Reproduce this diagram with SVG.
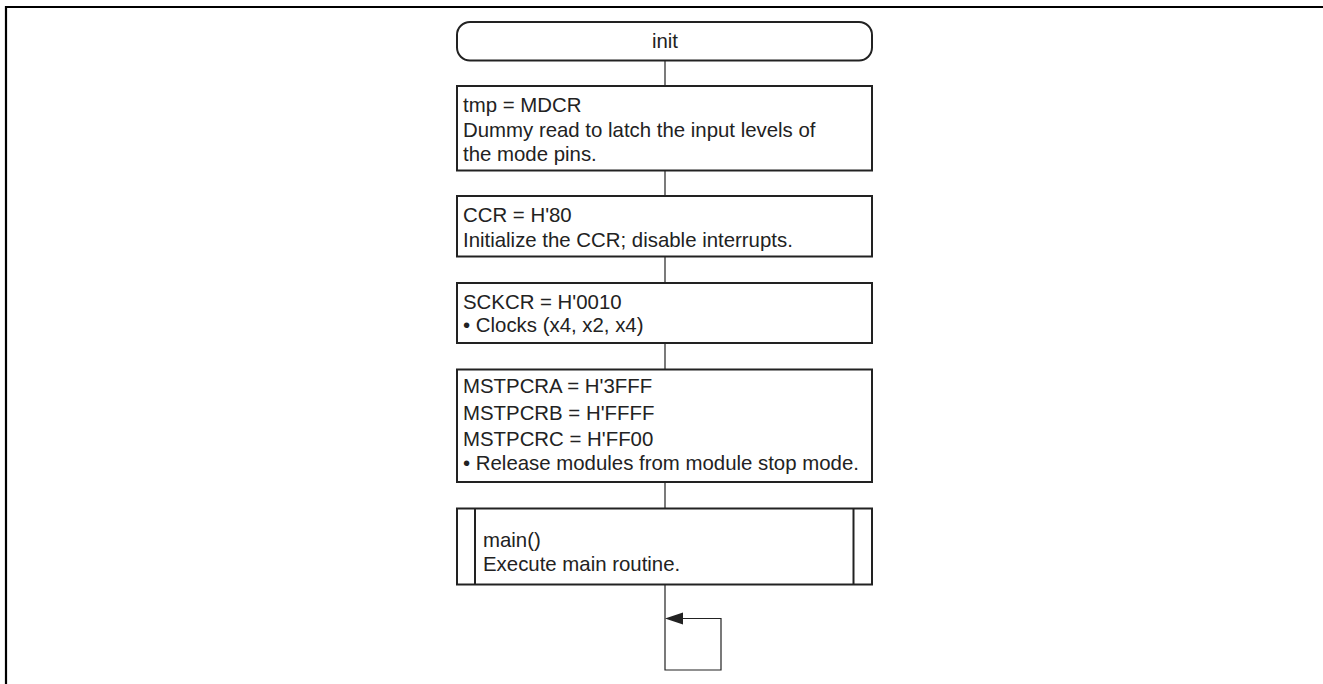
<svg xmlns="http://www.w3.org/2000/svg" width="1323" height="684" viewBox="0 0 1323 684">
<style>
.frame{fill:none;stroke:#000;stroke-width:2.2}
.box{fill:#fff;stroke:#222;stroke-width:2}
.ln{fill:none;stroke:#222;stroke-width:1.2}
text{font-family:"Liberation Sans",Arial,sans-serif;font-size:20.4px;fill:#222}
</style>
<rect width="1323" height="684" fill="#fff"/>
<path class="frame" d="M6,684 V7 H1323"/>
<g id="connectors">
<line class="ln" x1="665" y1="61" x2="665" y2="86"/>
<line class="ln" x1="665" y1="171" x2="665" y2="196"/>
<line class="ln" x1="665" y1="257" x2="665" y2="283"/>
<line class="ln" x1="665" y1="343" x2="665" y2="370"/>
<line class="ln" x1="665" y1="482" x2="665" y2="508"/>
<path class="ln" d="M665,584 V670 H721 V618.5 H683"/>
<path d="M665,618.5 L683,612.5 L683,624.5 Z" fill="#222"/>
</g>
<g id="n-init">
<rect class="box" x="457" y="22" width="415" height="38.5" rx="13" ry="13"/>
<text x="665" y="47.5" text-anchor="middle">init</text>
</g>
<g id="n-mdcr">
<rect class="box" x="457" y="86" width="415" height="84.5"/>
<text x="463" y="112">tmp = MDCR</text>
<text x="463" y="136.5">Dummy read to latch the input levels of</text>
<text x="463" y="161">the mode pins.</text>
</g>
<g id="n-ccr">
<rect class="box" x="457" y="196" width="415" height="60.5"/>
<text x="463" y="222">CCR = H'80</text>
<text x="463" y="246.5">Initialize the CCR; disable interrupts.</text>
</g>
<g id="n-sckcr">
<rect class="box" x="457" y="283" width="415" height="60"/>
<text x="463" y="308.5">SCKCR = H'0010</text>
<text x="463" y="332">• Clocks (x4, x2, x4)</text>
</g>
<g id="n-mstpcr">
<rect class="box" x="457" y="369.5" width="415" height="112.5"/>
<text x="463" y="393">MSTPCRA = H'3FFF</text>
<text x="463" y="419.5">MSTPCRB = H'FFFF</text>
<text x="463" y="445.5">MSTPCRC = H'FF00</text>
<text x="463" y="469.5">• Release modules from module stop mode.</text>
</g>
<g id="n-main">
<rect class="box" x="457" y="508.5" width="415" height="76"/>
<line class="box" x1="475" y1="508.5" x2="475" y2="584.5"/>
<line class="box" x1="853.5" y1="508.5" x2="853.5" y2="584.5"/>
<text x="483" y="547">main()</text>
<text x="483" y="571">Execute main routine.</text>
</g>
</svg>
